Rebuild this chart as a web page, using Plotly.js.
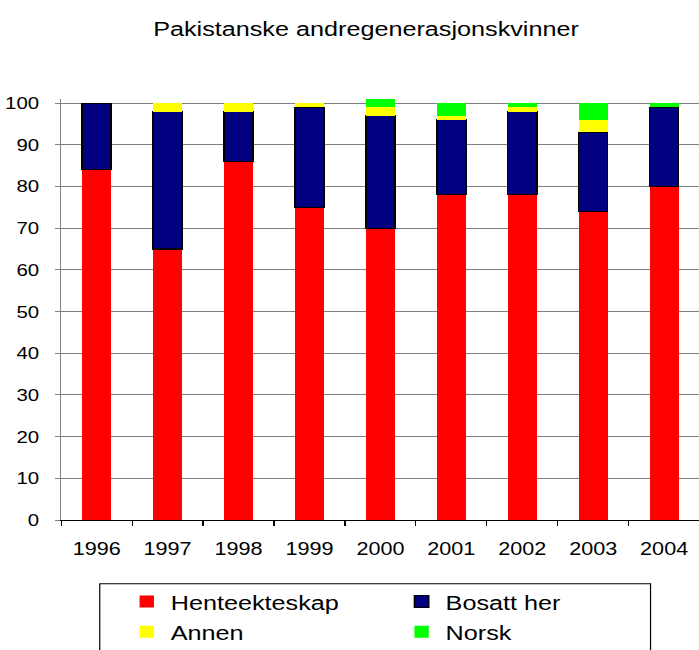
<!DOCTYPE html>
<html>
<head>
<meta charset="utf-8">
<script src="https://cdn.plot.ly/plotly-3.0.1.min.js"></script>
<style>
  html, body { margin: 0; padding: 0; background: #fff; overflow: hidden; }
  #chart { width: 582.5px; height: 650px; transform: scaleX(1.2); transform-origin: 0 0; }
</style>
</head>
<body>
<div id="chart"></div>
<script>
// Data (percent)
const years = ["1996", "1997", "1998", "1999", "2000", "2001", "2002", "2003", "2004"];
const henteekteskap = [84, 65, 86, 75, 70, 78, 78, 74, 80];
const bosattHer     = [16, 33, 12, 24, 27, 18, 20, 19, 19];
const annen         = [0, 2, 2, 1, 2, 1, 1, 3, 0];
const norsk         = [0, 0, 0, 0, 2, 3, 1, 4, 1];
const seriesNames = ["Henteekteskap", "Bosatt her", "Annen", "Norsk"];
const yTicks = [0, 10, 20, 30, 40, 50, 60, 70, 80, 90, 100];

const FONT = "Liberation Sans, Arial, Helvetica, sans-serif";
const SX = 1.2; // horizontal stretch applied via CSS
const W = 699 / SX, H = 650;
const mL = 61.5 / SX, mR = 0, mT = 98.5, mB = 650 - 520.5;
const plotW = W - mL - mR, plotH = H - mT - mB;

function bar(name, y, color, line) {
  return {
    type: "bar", name: name, x: years, y: y,
    marker: { color: color, line: line || { width: 0 } },
    hoverinfo: "skip"
  };
}

const data = [
  bar(seriesNames[0], henteekteskap, "#FF0000"),
  bar(seriesNames[1], bosattHer, "#000080", { color: "#000000", width: 1.2 }),
  bar(seriesNames[2], annen, "#FFFF00"),
  bar(seriesNames[3], norsk, "#00FF00")
];

// legend frame in paper coordinates (scaled px -> paper)
const px2x = p => (p / SX - mL) / plotW;
const py2y = p => (mT + plotH - p) / plotH;

const layout = {
  width: W, height: H,
  margin: { l: mL, r: mR, t: mT, b: mB, pad: 0, autoexpand: false },
  paper_bgcolor: "#ffffff", plot_bgcolor: "#ffffff",
  font: { family: FONT, color: "#000000" },
  barmode: "stack",
  bargap: 0.59,
  showlegend: true,
  title: {
    text: "Pakistanske andregenerasjonskvinner",
    font: { family: FONT, size: 21, color: "#000" },
    x: (366 / SX) / W, xanchor: "center",
    y: 1 - 29 / H, yanchor: "middle", xref: "container", yref: "container"
  },
  xaxis: {
    type: "category",
    showgrid: false,
    showline: true, linecolor: "#000000", linewidth: 1,
    ticks: "outside", tickson: "boundaries", ticklen: 5, tickcolor: "#000", tickwidth: 1,
    tickfont: { family: FONT, size: 18, color: "#000" },
    ticklabelstandoff: 12,
    zeroline: false, fixedrange: true, automargin: false
  },
  yaxis: {
    range: [0, 101],
    tickvals: yTicks, ticktext: yTicks.map(String),
    showgrid: true, gridcolor: "#808080", gridwidth: 1,
    showline: true, linecolor: "#808080", linewidth: 1,
    ticks: "outside", ticklen: 4, tickcolor: "#808080", tickwidth: 1,
    tickfont: { family: FONT, size: 17, color: "#000" },
    ticklabelstandoff: 10,
    zeroline: false, fixedrange: true, automargin: false
  },
  legend: {
    orientation: "h",
    x: px2x(123), xanchor: "left",
    y: py2y(582), yanchor: "top",
    font: { family: FONT, size: 21, color: "#000" },
    entrywidth: 184, entrywidthmode: "pixels",
    bgcolor: "rgba(0,0,0,0)", borderwidth: 0,
    traceorder: "normal"
  },
  shapes: [{
    type: "rect", xref: "paper", yref: "paper",
    x0: px2x(100), x1: px2x(650), y0: py2y(660), y1: py2y(584.3),
    line: { color: "#000000", width: 1 }, fillcolor: "rgba(0,0,0,0)"
  }]
};

Plotly.newPlot("chart", data, layout, { staticPlot: true, displayModeBar: false });
</script>
</body>
</html>
